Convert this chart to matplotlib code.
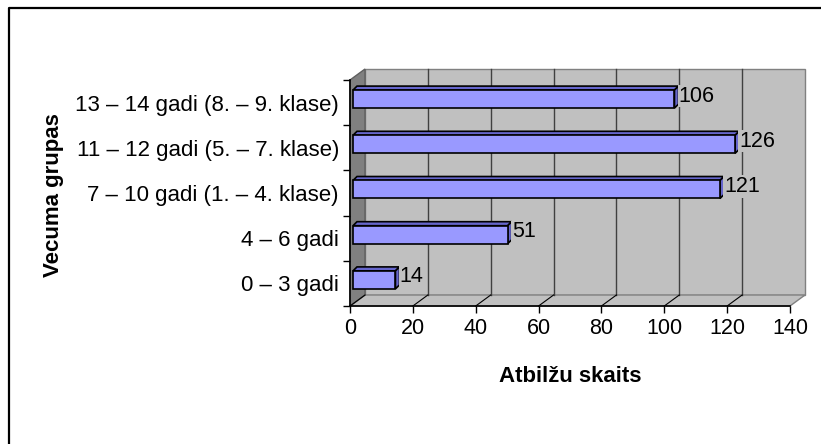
import numpy as np
import matplotlib
matplotlib.use("Agg")
import matplotlib.pyplot as plt
from matplotlib.patches import Polygon, Rectangle
from matplotlib.lines import Line2D

plt.rcParams['font.family'] = ['Liberation Sans', 'DejaVu Sans']

# data
categories = ["0 – 3 gadi", "4 – 6 gadi", "7 – 10 gadi (1. – 4. klase)",
              "11 – 12 gadi (5. – 7. klase)", "13 – 14 gadi (8. – 9. klase)"]
values = [14, 51, 121, 126, 106]
xticks = [0, 20, 40, 60, 80, 100, 120, 140]
xlabel = "Atbilžu skaits"
ylabel = "Vecuma grupas"

W, H = 821, 444
fig = plt.figure(figsize=(W / 100, H / 100), dpi=100)
fig.patch.set_facecolor("white")

# front plane of the 3d box, in pixels
px_l, px_r, px_t, px_b = 350, 790, 80, 306
ax = fig.add_axes([px_l / W, 1 - px_b / H, (px_r - px_l) / W, (px_b - px_t) / H])
ax.set_xlim(0, 140)
ax.set_ylim(-0.5, len(categories) - 0.5)
ax.patch.set_visible(False)

sx = (px_r - px_l) / 140.0          # px per x unit
sy = (px_b - px_t) / len(categories)  # px per category
DX, DY = 15 / sx, 11 / sy           # depth of the box
x0, x1 = 0, 140
y0, y1 = -0.5, len(categories) - 0.5

wall = "#C0C0C0"
edge = "#808080"

# back wall
ax.add_patch(Polygon([(x0 + DX, y0 + DY), (x1 + DX, y0 + DY), (x1 + DX, y1 + DY), (x0 + DX, y1 + DY)],
                     closed=True, fc=wall, ec=edge, lw=1, clip_on=False, zorder=1))
# floor
ax.add_patch(Polygon([(x0, y0), (x1, y0), (x1 + DX, y0 + DY), (x0 + DX, y0 + DY)],
                     closed=True, fc=wall, ec=edge, lw=1, clip_on=False, zorder=1))
# left wall
ax.add_patch(Polygon([(x0, y0), (x0 + DX, y0 + DY), (x0 + DX, y1 + DY), (x0, y1)],
                     closed=True, fc="#808080", ec="#606060", lw=1, clip_on=False, zorder=1))

# gridlines on back wall and floor diagonals
for t in xticks[1:-1]:
    ax.plot([t + DX, t + DX], [y0 + DY, y1 + DY], color="#404040", lw=1, zorder=2, clip_on=False)
for t in xticks[:-1]:
    ax.plot([t, t + DX], [y0, y0 + DY], color="black", lw=0.8, zorder=2, clip_on=False)

# bars (sitting a bit inside the box)
bx, by = 3 / sx, 3.5 / sy
ddx, ddy = 4 / sx, 4 / sy
persp = 0.965
hh = 9 / sy
for i, v in enumerate(values):
    xs = bx
    xe = bx + v * persp
    yb = i + by - hh
    yt = i + by + hh
    ax.add_patch(Polygon([(xs, yt), (xe, yt), (xe + ddx, yt + ddy), (xs + ddx, yt + ddy)],
                         closed=True, fc="#6666CC", ec="black", lw=1.2, zorder=3, clip_on=False))
    ax.add_patch(Polygon([(xe, yb), (xe + ddx, yb + ddy), (xe + ddx, yt + ddy), (xe, yt)],
                         closed=True, fc="#6666CC", ec="black", lw=1.2, zorder=3, clip_on=False))
    ax.add_patch(Rectangle((xs, yb), xe - xs, yt - yb, fc="#9999FF", ec="black", lw=1.2,
                           zorder=4, clip_on=False))
    ax.text(xe + 4 / sx, i + by + 3 / sy, str(v), ha="left", va="center", fontsize=15.5,
            zorder=5, bbox=dict(fc=wall, ec="none", pad=0.5))

# axes
for s in ["top", "right"]:
    ax.spines[s].set_visible(False)
ax.spines["left"].set_linewidth(1.2)
ax.spines["bottom"].set_linewidth(1.2)
ax.spines["left"].set_zorder(6)
ax.spines["bottom"].set_zorder(6)
ax.set_xticks(xticks)
ax.set_xticklabels([str(t) for t in xticks], fontsize=15.5)
ax.tick_params(axis="x", length=5, width=1, pad=4)
ax.set_yticks(np.arange(len(categories) + 1) - 0.5)
ax.set_yticklabels([])
ax.tick_params(axis="y", which="major", length=5, width=1)
ax.set_yticks(np.arange(len(categories)), minor=True)
ax.set_yticklabels(categories, minor=True, fontsize=16)
ax.tick_params(axis="y", which="minor", length=0, pad=8)

fig.text(570 / W, 1 - 382 / H, xlabel, ha="center", va="baseline", fontsize=16, fontweight="bold")
fig.text(53 / W, 1 - 195 / H, ylabel, ha="center", va="center", fontsize=16, fontweight="bold",
         rotation=90)

# outer chart border (right and bottom fall outside the picture)
fig.add_artist(Line2D([9 / W, 9 / W, 1.0], [0.0, 1 - 8 / H, 1 - 8 / H], color="black", lw=1.6,
                      transform=fig.transFigure))

fig.savefig("out.png", dpi=100)
